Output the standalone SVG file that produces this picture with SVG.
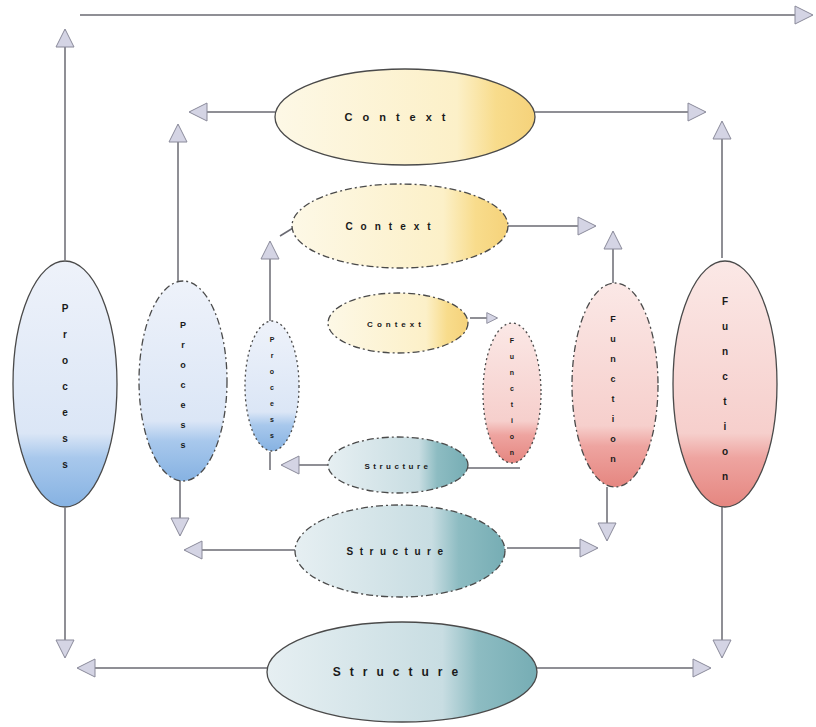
<svg xmlns="http://www.w3.org/2000/svg" width="816" height="727" viewBox="0 0 816 727">
<style>
.bg{fill:#ffffff}
.ln{fill:none;stroke:#6a6a72;stroke-width:1.5}
.el{stroke:#4a4a4a;stroke-width:1.3}
.dash{stroke-dasharray:7 3 2 3}
.dot{stroke-dasharray:2 3}
.t{font-family:"Liberation Sans",Arial,sans-serif;font-weight:bold;fill:#1a1a1a;text-anchor:middle}
</style>
<defs>
<marker id="arr" viewBox="0 0 20 20" refX="18" refY="10" markerWidth="20" markerHeight="20" markerUnits="userSpaceOnUse" orient="auto">
<path d="M1,1 L19,10 L1,19 z" fill="#d4d4e4" stroke="#8a8a9a" stroke-width="1"/>
</marker>
<marker id="arrs" viewBox="0 0 20 20" refX="18" refY="10" markerWidth="12" markerHeight="12" markerUnits="userSpaceOnUse" orient="auto">
<path d="M1,1 L19,10 L1,19 z" fill="#d4d4e4" stroke="#8a8a9a" stroke-width="1.5"/>
</marker>
<linearGradient id="gy" x1="0" y1="0" x2="1" y2="0">
<stop offset="0" stop-color="#fdf8e6"/><stop offset="0.7" stop-color="#fcf0c8"/><stop offset="0.85" stop-color="#f8dc8c"/><stop offset="1" stop-color="#f5d27a"/>
</linearGradient>
<linearGradient id="gb" x1="0" y1="0" x2="0" y2="1">
<stop offset="0" stop-color="#eef2fa"/><stop offset="0.7" stop-color="#dbe6f6"/><stop offset="0.8" stop-color="#a8c8ec"/><stop offset="1" stop-color="#86b2e2"/>
</linearGradient>
<linearGradient id="gp" x1="0" y1="0" x2="0" y2="1">
<stop offset="0" stop-color="#fbe8e6"/><stop offset="0.7" stop-color="#f6cfcc"/><stop offset="0.8" stop-color="#eea4a0"/><stop offset="1" stop-color="#e58680"/>
</linearGradient>
<linearGradient id="gt" x1="0" y1="0" x2="1" y2="0">
<stop offset="0" stop-color="#e6eff2"/><stop offset="0.65" stop-color="#c8dde2"/><stop offset="0.78" stop-color="#8dbcc2"/><stop offset="1" stop-color="#76adb4"/>
</linearGradient>
</defs>
<rect class="bg" x="0" y="0" width="816" height="727"/>

<g id="connectors">
<path class="ln" d="M65,260 V30" marker-end="url(#arr)"/>
<path class="ln" d="M80,15 H812" marker-end="url(#arr)"/>
<path class="ln" d="M275,112 H190" marker-end="url(#arr)"/>
<path class="ln" d="M178,282 V125" marker-end="url(#arr)"/>
<path class="ln" d="M535,112 H705" marker-end="url(#arr)"/>
<path class="ln" d="M722,258 V122" marker-end="url(#arr)"/>
<path class="ln" d="M65,508 V657" marker-end="url(#arr)"/>
<path class="ln" d="M267,668 H78" marker-end="url(#arr)"/>
<path class="ln" d="M722,507 V657" marker-end="url(#arr)"/>
<path class="ln" d="M537,668 H710" marker-end="url(#arr)"/>
<path class="ln" d="M180,480 V535" marker-end="url(#arr)"/>
<path class="ln" d="M295,550 H185" marker-end="url(#arr)"/>
<path class="ln" d="M508,226 H595" marker-end="url(#arr)"/>
<path class="ln" d="M613,283 V232" marker-end="url(#arr)"/>
<path class="ln" d="M607,487 V540" marker-end="url(#arr)"/>
<path class="ln" d="M507,548 H597" marker-end="url(#arr)"/>
<path class="ln" d="M270,321 V242" marker-end="url(#arr)"/>
<path class="ln" d="M293,228 L280,236"/>
<path class="ln" d="M270,452 V470"/>
<path class="ln" d="M328,465 H282" marker-end="url(#arr)"/>
<path class="ln" d="M470,318 H497" marker-end="url(#arrs)"/>
<path class="ln" d="M468,468 H520"/>
</g>

<g id="context-outer">
<ellipse class="el" cx="405" cy="117" rx="130" ry="48" fill="url(#gy)"/>
<text class="t" x="400" y="121" font-size="11" letter-spacing="10">Context</text>
</g>
<g id="context-mid">
<ellipse class="el dash" cx="400" cy="226" rx="108" ry="42" fill="url(#gy)"/>
<text class="t" x="392" y="230" font-size="10" letter-spacing="8">Context</text>
</g>
<g id="context-inner">
<ellipse class="el dash" cx="398" cy="323" rx="70" ry="30" fill="url(#gy)"/>
<text class="t" x="396" y="327" font-size="8" letter-spacing="4">Context</text>
</g>

<g id="structure-outer">
<ellipse class="el" cx="402" cy="672" rx="135" ry="50" fill="url(#gt)"/>
<text class="t" x="400" y="676" font-size="12" letter-spacing="9">Structure</text>
</g>
<g id="structure-mid">
<ellipse class="el dash" cx="400" cy="551" rx="105" ry="46" fill="url(#gt)"/>
<text class="t" x="398" y="555" font-size="10" letter-spacing="6.5">Structure</text>
</g>
<g id="structure-inner">
<ellipse class="el dash" cx="398" cy="465" rx="70" ry="28" fill="url(#gt)"/>
<text class="t" x="398" y="469" font-size="8" letter-spacing="3.5">Structure</text>
</g>

<g id="process-outer">
<ellipse class="el" cx="65" cy="384" rx="52" ry="123" fill="url(#gb)"/>
<text class="t" font-size="10"><tspan x="65" y="312">P</tspan><tspan x="65" dy="26">r</tspan><tspan x="65" dy="26">o</tspan><tspan x="65" dy="26">c</tspan><tspan x="65" dy="26">e</tspan><tspan x="65" dy="26">s</tspan><tspan x="65" dy="26">s</tspan></text>
</g>
<g id="process-mid">
<ellipse class="el dash" cx="183" cy="381" rx="44" ry="100" fill="url(#gb)"/>
<text class="t" font-size="9"><tspan x="183" y="328">P</tspan><tspan x="183" dy="20">r</tspan><tspan x="183" dy="20">o</tspan><tspan x="183" dy="20">c</tspan><tspan x="183" dy="20">e</tspan><tspan x="183" dy="20">s</tspan><tspan x="183" dy="20">s</tspan></text>
</g>
<g id="process-inner">
<ellipse class="el dot" cx="272" cy="386" rx="27" ry="65" fill="url(#gb)"/>
<text class="t" font-size="7"><tspan x="272" y="342">P</tspan><tspan x="272" dy="16">r</tspan><tspan x="272" dy="16">o</tspan><tspan x="272" dy="16">c</tspan><tspan x="272" dy="16">e</tspan><tspan x="272" dy="16">s</tspan><tspan x="272" dy="16">s</tspan></text>
</g>

<g id="function-outer">
<ellipse class="el" cx="725" cy="384" rx="52" ry="123" fill="url(#gp)"/>
<text class="t" font-size="10"><tspan x="725" y="305">F</tspan><tspan x="725" dy="25">u</tspan><tspan x="725" dy="25">n</tspan><tspan x="725" dy="25">c</tspan><tspan x="725" dy="25">t</tspan><tspan x="725" dy="25">i</tspan><tspan x="725" dy="25">o</tspan><tspan x="725" dy="25">n</tspan></text>
</g>
<g id="function-mid">
<ellipse class="el dash" cx="615" cy="385" rx="43" ry="102" fill="url(#gp)"/>
<text class="t" font-size="9"><tspan x="613" y="322">F</tspan><tspan x="613" dy="20">u</tspan><tspan x="613" dy="20">n</tspan><tspan x="613" dy="20">c</tspan><tspan x="613" dy="20">t</tspan><tspan x="613" dy="20">i</tspan><tspan x="613" dy="20">o</tspan><tspan x="613" dy="20">n</tspan></text>
</g>
<g id="function-inner">
<ellipse class="el dot" cx="512" cy="393" rx="29" ry="70" fill="url(#gp)"/>
<text class="t" font-size="7"><tspan x="512" y="343">F</tspan><tspan x="512" dy="16">u</tspan><tspan x="512" dy="16">n</tspan><tspan x="512" dy="16">c</tspan><tspan x="512" dy="16">t</tspan><tspan x="512" dy="16">i</tspan><tspan x="512" dy="16">o</tspan><tspan x="512" dy="16">n</tspan></text>
</g>
</svg>
